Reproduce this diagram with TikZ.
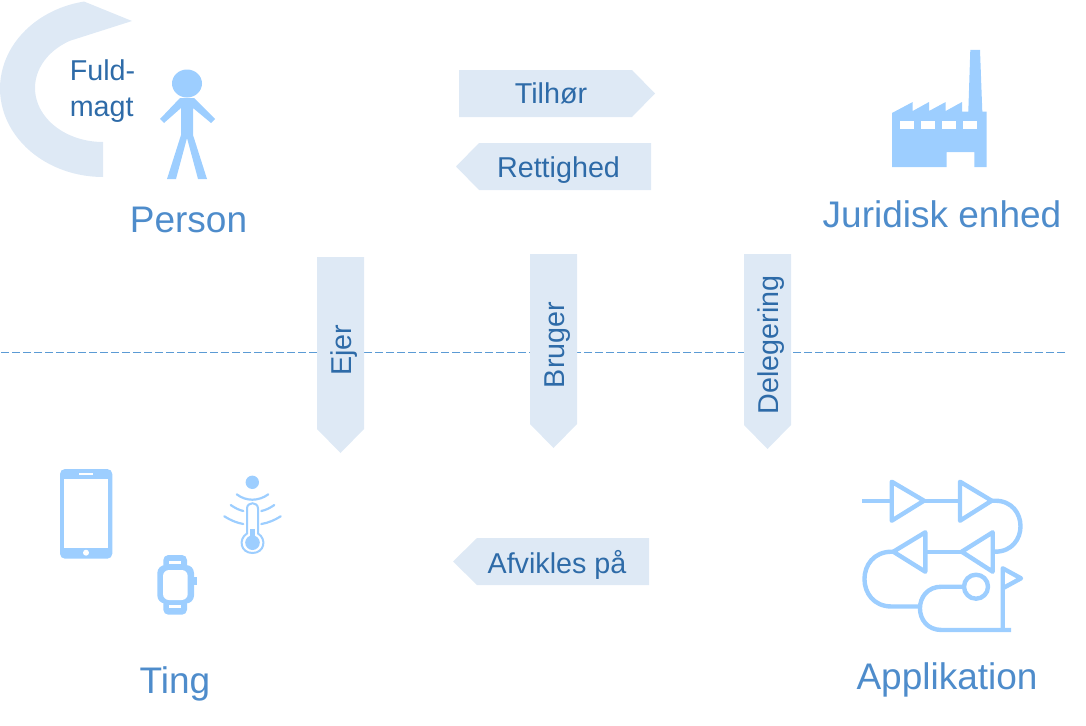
\documentclass[tikz,border=0pt]{standalone}
\usepackage{fontspec}
\setmainfont{Liberation Sans}
\definecolor{blockfill}{HTML}{DEE9F5}
\definecolor{iconblue}{HTML}{9DCEFF}
\definecolor{labelblue}{HTML}{2E6BA8}
\definecolor{titleblue}{HTML}{4E8CCB}
\definecolor{dashblue}{HTML}{5B9BD5}
\tikzset{
  block/.style={fill=blockfill,draw=none},
  icon/.style={fill=iconblue,draw=none},
  cutout/.style={fill=white,draw=none},
  iconline/.style={draw=iconblue,line width=4.4pt,fill=none,line join=round},
  waveline/.style={draw=iconblue,line width=2.2pt,line cap=round,fill=none},
  title/.style={text=titleblue,font=\fontsize{37}{44}\selectfont,inner sep=0pt},
  lbl/.style={text=labelblue,font=\fontsize{28.7}{36}\selectfont,inner sep=0pt},
}
\begin{document}
\begin{tikzpicture}[x=1pt,y=-1pt]
\useasboundingbox (0,0) rectangle (1086,725);
% dashed separator
\coordinate (sepL) at (0,352);
\coordinate (sepR) at (1065,352);
\draw[dashblue,line width=1pt,dash pattern=on 8.5pt off 2.5pt] (sepR) -- (sepL);
% horizontal blocks
\fill[block] (459,70) -- (632,70) -- (655,93.5) -- (632,117) -- (459,117) -- cycle;
\node[lbl] (tilhor) at (551,93.5) {Tilhør};
\fill[block] (651,143) -- (479,143) -- (456,166.5) -- (479,190) -- (651,190) -- cycle;
\node[lbl] (rettighed) at (558.5,170) {Rettighed};
\fill[block] (649,538) -- (477,538) -- (453,561.5) -- (477,585) -- (649,585) -- cycle;
\node[lbl] (afvikles) at (557,565) {Afvikles på};
% vertical blocks
\fill[block] (317,257) -- (364,257) -- (364,429) -- (340.5,453) -- (317,429) -- cycle;
\node[lbl,rotate=90] (ejer) at (344,350) {Ejer};
\fill[block] (530,254) -- (577,254) -- (577,424) -- (553.5,448) -- (530,424) -- cycle;
\node[lbl,rotate=90] (bruger) at (557.5,345) {Bruger};
\fill[block] (744,254) -- (791,254) -- (791,425) -- (767.5,449) -- (744,425) -- cycle;
\node[lbl,rotate=90] (delegering) at (771.5,345) {Delegering};
% Fuldmagt circular arrow
\fill[block] plot[domain=259.4:90,samples=50] ({103+103*cos(\x)},{88.5+88.5*sin(\x)})
  -- plot[domain=90:241,samples=50] ({103+68*cos(\x)},{88+54*sin(\x)}) -- (132,21) -- cycle;
\node[lbl,align=left] (fuldmagt) at (102.5,91) {Fuld-\\magt};
% Person icon
\fill[icon] (187,83.5) ellipse [x radius=15,y radius=14];
\fill[icon] (180,98) -- (194,98) -- (215,119) -- (211,123) -- (193,108) -- (193,135)
  -- (207,179) -- (198,179) -- (187,138) -- (176,179) -- (167,179) -- (181,135)
  -- (181,108) -- (164,123) -- (160,119) -- cycle;
\node[title] (person) at (188.5,220) {Person};
% Factory icon
\fill[icon] (892,167) -- (892,113) -- (912.7,102) -- (912.7,111) -- (929,102) -- (929,111)
  -- (945.7,102) -- (945.7,111) -- (962,102) -- (962,111.7) -- (968.3,111.7) -- (970.3,50)
  -- (980,50) -- (982.3,111.7) -- (986.7,111.7) -- (986.7,167) -- (974.3,167) -- (974.3,152)
  -- (946.7,152) -- (946.7,167) -- cycle;
\fill[cutout] (900,120.7) rectangle (914.3,129.3);
\fill[cutout] (921,120.7) rectangle (935,129.3);
\fill[cutout] (942,120.7) rectangle (956,129.3);
\fill[cutout] (962.7,120.7) rectangle (976.7,129.3);
\node[title] (juridisk) at (942,214) {Juridisk enhed};
% Phone icon
\fill[icon,rounded corners=5pt] (60,469) rectangle (112.3,558.7);
\fill[cutout] (64,478.7) rectangle (108.3,547.7);
\fill[cutout] (79,473) rectangle (93.3,475);
\fill[cutout] (86,552.7) circle (3);
% Watch icon
\fill[icon] (194,576.7) rectangle (196.7,584.7);
\fill[icon,rounded corners=5pt] (163.3,555) rectangle (187,614.7);
\fill[icon,rounded corners=8pt] (157.3,565) rectangle (194,603.5);
\fill[cutout,rounded corners=6pt] (163,570) rectangle (187.7,600);
\fill[cutout] (169.3,561.3) rectangle (181.3,564);
\fill[cutout] (169.3,605.3) rectangle (181.3,608);
% Thermometer icon
\fill[icon] (252.3,482.3) circle (6.7);
\draw[waveline] (236.7,494.3) .. controls (246,501.5) and (258.5,501.5) .. (268.3,494.3);
\draw[waveline] (230.7,505) .. controls (235,508) and (239,510) .. (243.3,511);
\draw[waveline] (274.3,505) .. controls (270,508) and (266,510) .. (261.3,511);
\draw[waveline] (224.3,516.3) .. controls (230,520) and (237,523) .. (243.3,524);
\draw[waveline] (280.7,516.3) .. controls (275,520) and (268,523) .. (261.3,524);
\draw[draw=iconblue,line width=2pt,fill=white] (247,533.5) -- (247,508.5)
  .. controls (247,501.5) and (258,501.5) .. (258,508.5) -- (258,533.5)
  .. controls (267,539) and (264.5,553) .. (252.5,553)
  .. controls (240.5,553) and (238,539) .. (247,533.5) -- cycle;
\fill[icon] (252.5,542.7) circle (7.3);
\fill[icon] (250,529.3) rectangle (255,540);
% Application icon
\draw[iconline] (862.3,500.7) -- (891.7,500.7);
\draw[iconline] (891.7,481.7) -- (924,500.7) -- (891.7,520.7) -- cycle;
\draw[iconline] (924,500.7) -- (960,500.7);
\draw[iconline] (960,481.7) -- (991.7,500.7) -- (960,520.7) -- cycle;
\draw[iconline] (991.7,500.7) -- (995,500.7) .. controls (1029,500.7) and (1029,551.7) .. (995,551.7) -- (992.7,551.7);
\draw[iconline] (992.7,532.3) -- (961.7,551.7) -- (992.7,571.7) -- cycle;
\draw[iconline] (961.7,551.7) -- (925.3,551.7);
\draw[iconline] (925.3,532.3) -- (893.3,551.7) -- (925.3,571.7) -- cycle;
\draw[iconline] (893.3,551.7) -- (891.7,551.7) .. controls (855.4,551.7) and (855.4,606.5) .. (891.7,606.5) -- (921.7,606.5);
\draw[iconline] (964,586.7) -- (941.7,586.7) .. controls (912.7,586.7) and (912.7,630) .. (941.7,630) -- (1011,630);
\draw[iconline] (976,586.7) circle (12);
\draw[iconline] (1002.7,630) -- (1002.7,568.3) -- (1021,578.3) -- (1002.7,588.3);
\node[title] (applikation) at (947,680) {Applikation};
\node[title] (ting) at (175,684) {Ting};
\end{tikzpicture}
\end{document}
